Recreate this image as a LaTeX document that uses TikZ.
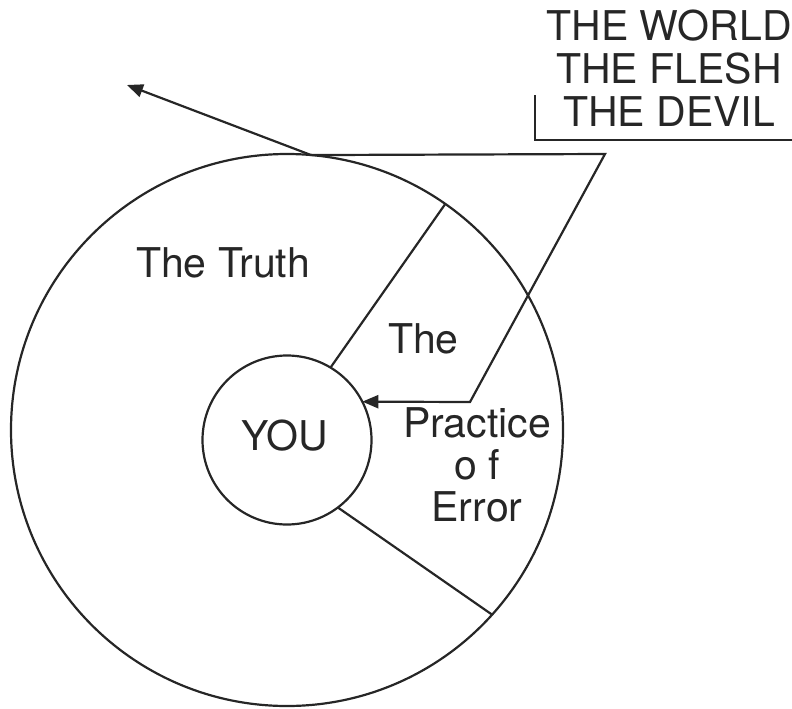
\documentclass[tikz,border=0pt]{standalone}
\usepackage{fontspec}
\setmainfont{TeX Gyre Heros}
\usetikzlibrary{arrows.meta}

\begin{document}
\begin{tikzpicture}[x=1pt, y=-1pt, line width=2.2pt, color=black!85,
	ring/.style={shape=circle, draw, inner sep=0pt, outer sep=0pt},
	big text/.style={font=\fontsize{41}{42}\selectfont, inner sep=0pt},
	push/.style={-{Triangle[length=16pt, width=13pt]}}]
	% Frame:
	\useasboundingbox (0, 0) rectangle (792, 709);
	% Circles and their texts:
	\node[ring, minimum size=552pt] (truth) at (287, 430){};
	\node[ring, minimum size=169pt] (you) at (287, 440){};
	\node[big text, anchor=base west] (truthtext) at (135, 277){The Truth};
	\node[big text, anchor=base] (youtext) at (285, 450){YOU};
	\node[big text, anchor=base west] (thetext) at (387, 353){The};
	\node[big text, align=center, anchor=south] (errortext) at (477, 523){Practice\\o f\\Error};
	\node[big text, align=center, anchor=south, font=\fontsize{41}{43}\selectfont] (foes) at (669, 128){THE WORLD\\THE FLESH\\THE DEVIL};
	% Walls of the sector:
	\draw (you.59) -- (truth.55.5);
	\draw (you.-53) -- (truth.-42);
	% Paths and arrows:
	\coordinate (away) at (127, 85);
	\coordinate (corner1) at (605, 154);
	\coordinate (corner2) at (470, 402);
	\draw[push] (truth.85) -- (away);
	\draw[push] (truth.85) -- (corner1) -- (corner2) -- (you.27);
	\draw (535, 95) -- (535, 140) -- (792, 140);
\end{tikzpicture}
\end{document}
